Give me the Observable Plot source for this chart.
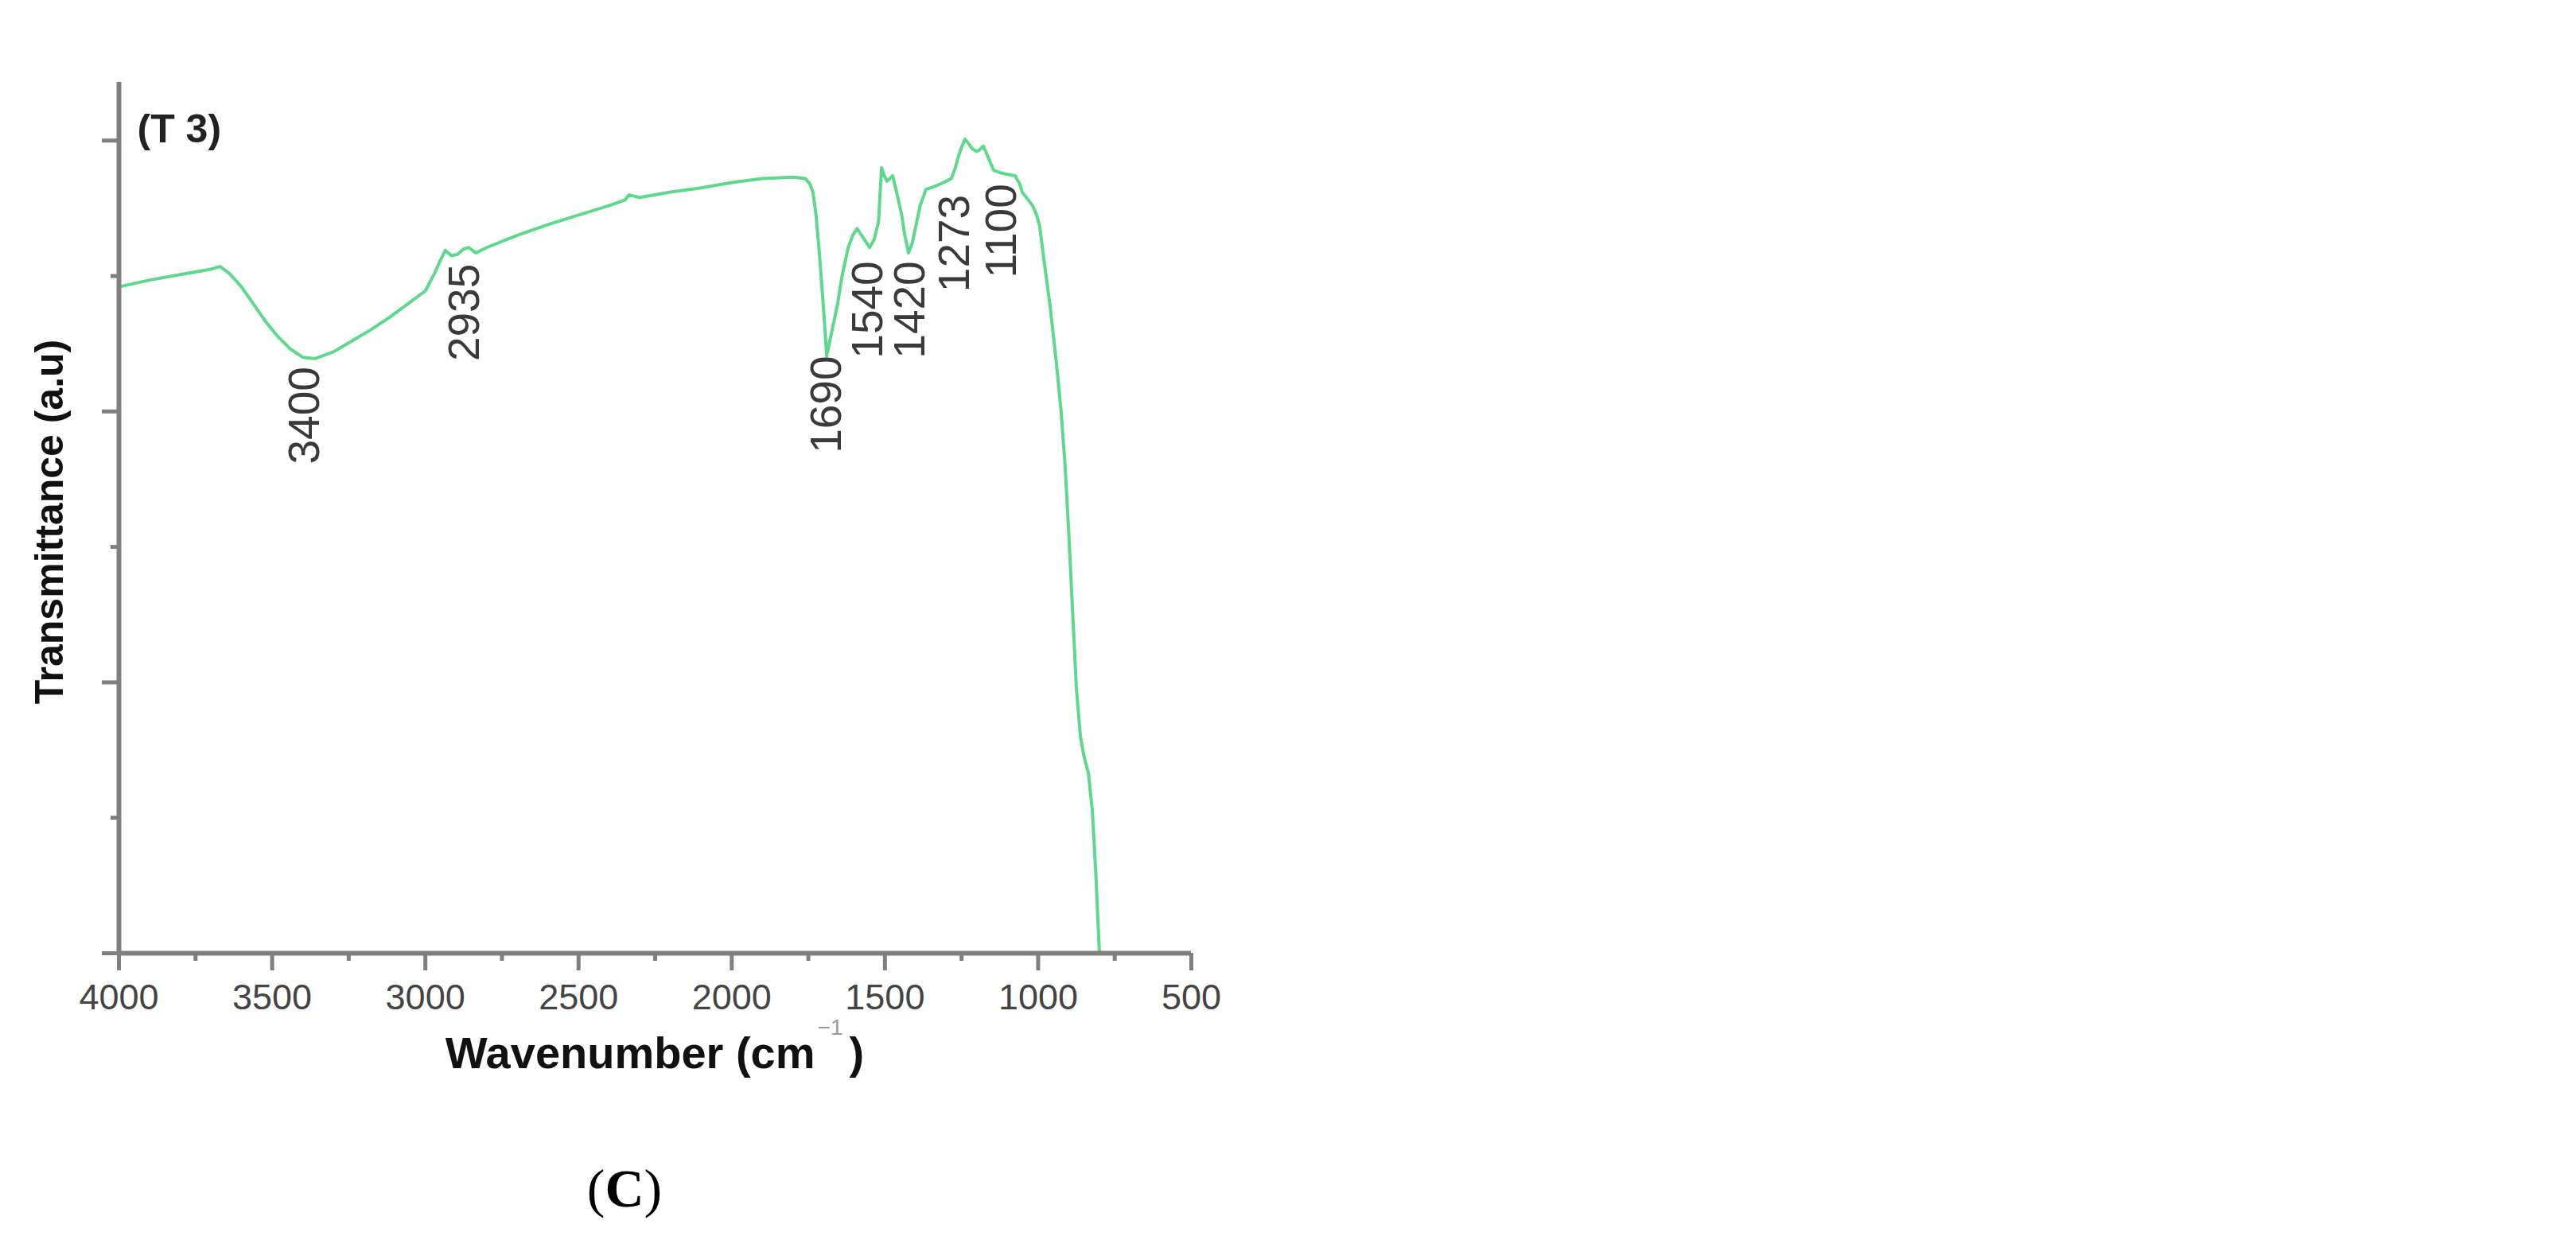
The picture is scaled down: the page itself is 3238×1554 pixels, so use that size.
<!DOCTYPE html>
<html><head><meta charset="utf-8">
<script src="https://cdn.jsdelivr.net/npm/d3@7"></script>
<script src="https://cdn.jsdelivr.net/npm/@observablehq/plot@0.6"></script>
<style>
html,body{margin:0;padding:0;background:#fff;}
#chart svg{display:block;}
</style></head><body><div id="chart"></div>
<script>
// ---- data ----
const wavenumber = [4000,3900,3800,3700,3670,3640,3600,3560,3520,3480,3440,3400,3360,3300,3240,3180,3120,3060,3000,2970,2950,2935,2915,2895,2875,2858,2835,2800,2700,2600,2500,2400,2349,2335,2320,2300,2200,2100,2000,1900,1800,1760,1745,1735,1725,1714,1700,1690,1680,1665,1654,1640,1620,1605,1591,1570,1550,1535,1521,1511,1502,1493,1475,1460,1446,1435,1423,1410,1399,1385,1366,1340,1319,1300,1283,1270,1262,1250,1239,1228,1215,1200,1192,1179,1160,1145,1120,1100,1075,1060,1052,1035,1018,1005,995,980,961,940,925,912,900,887,875,862,850,842,836,830,823,812,800];
const transmittance = [4.92,4.97,5.01,5.05,5.07,5.02,4.92,4.79,4.66,4.55,4.46,4.40,4.39,4.44,4.52,4.60,4.69,4.79,4.89,5.02,5.12,5.19,5.15,5.16,5.20,5.21,5.17,5.21,5.30,5.38,5.45,5.52,5.56,5.60,5.59,5.58,5.62,5.65,5.69,5.72,5.73,5.72,5.68,5.62,5.45,5.17,4.75,4.41,4.52,4.68,4.80,5.00,5.21,5.30,5.35,5.28,5.21,5.27,5.40,5.80,5.74,5.70,5.74,5.60,5.46,5.30,5.17,5.25,5.37,5.52,5.64,5.66,5.68,5.70,5.72,5.80,5.87,5.95,6.01,5.98,5.94,5.92,5.93,5.96,5.86,5.78,5.76,5.75,5.74,5.68,5.62,5.57,5.52,5.45,5.37,5.10,4.78,4.35,4.00,3.60,3.10,2.50,1.95,1.60,1.45,1.38,1.33,1.20,1.05,0.60,0.00];
const peakLabels = ["3400","2935","1690","1540","1420","1273","1100"];
const peakLabelWavenumber = [3393,2871,1690,1555,1418,1272,1117];
const peakLabelLevel = [4.33,5.09,4.41,5.11,5.11,5.60,5.68];
const majorXTicks = [4000,3500,3000,2500,2000,1500,1000,500];
const minorXTicks = [3750,3250,2750,2250,1750,1250,750];
const majorYTicks = [0,2,4,6];
const minorYTicks = [1,3,5];
const panelTitle = "(T 3)";
const yTitle = "Transmittance (a.u)";
const xTitle = "Wavenumber (cm";
const xTitleSup = "\u22121";
const panelLetter = "C";

const spectrum = wavenumber.map((w, i) => ({w, t: transmittance[i]}));
const peaks = peakLabels.map((label, i) => ({label, w: peakLabelWavenumber[i], t: peakLabelLevel[i]}));

const W = 3238, H = 1554;
const axisGray = "#7f7f7f";
const sans = "'Liberation Sans', Arial, sans-serif";

const chart = Plot.plot({
  width: W, height: H,
  marginLeft: 149, marginRight: W - 1497, marginTop: 103, marginBottom: H - 1198,
  style: {fontFamily: sans, background: "#fff", overflow: "visible"},
  x: {domain: [4000, 500], label: null},
  y: {domain: [0, 6.43], label: null},
  marks: [
    Plot.line(spectrum, {x: "w", y: "t", stroke: "#5ed88c", strokeWidth: 4, strokeLinejoin: "round"}),
    Plot.axisX(minorXTicks, {anchor: "bottom", tickSize: 10, stroke: axisGray, strokeWidth: 5, text: null, label: null}),
    Plot.axisX(majorXTicks, {anchor: "bottom", tickSize: 22, stroke: axisGray, strokeWidth: 5, text: null, label: null}),
    Plot.axisX(majorXTicks, {anchor: "bottom", tickSize: 0, tickPadding: 39, fontSize: 45, color: "#444", tickFormat: d => String(d), label: null}),
    Plot.axisY(minorYTicks, {anchor: "left", tickSize: 10, stroke: axisGray, strokeWidth: 5, text: null, label: null}),
    Plot.axisY(majorYTicks, {anchor: "left", tickSize: 21, stroke: axisGray, strokeWidth: 5, text: null, label: null}),
    Plot.ruleY([0], {stroke: axisGray, strokeWidth: 6}),
    Plot.ruleX([4000], {stroke: axisGray, strokeWidth: 6}),
    Plot.text(peaks, {x: "w", y: "t", text: "label", rotate: -90, textAnchor: "end", fontSize: 55, fill: "#3a3a3a"}),
    Plot.text([panelTitle], {text: d => d, frameAnchor: "top-left", textAnchor: "start", lineAnchor: "top", dx: 23, dy: 40, fontSize: 50, fontWeight: "bold", fill: "#222"}),
    Plot.text([yTitle], {text: d => d, frameAnchor: "left", textAnchor: "middle", rotate: -90, dx: -87, dy: 5, fontSize: 50, fontWeight: "bold", fill: "#111"})
  ]
});
document.getElementById("chart").appendChild(chart);

// x-axis title with superscript, and the panel letter
const svg = d3.select(chart);
const xr = chart.scale("x").range;
const y0 = chart.scale("y").apply(0);
const cx = (xr[0] + xr[1]) / 2;
const xt = svg.append("text")
  .attr("x", cx).attr("y", y0 + 145)
  .attr("text-anchor", "middle")
  .attr("font-family", sans).attr("font-size", 56).attr("font-weight", "bold").attr("fill", "#111");
xt.append("tspan").text(xTitle);
xt.append("tspan").attr("dx", 3).attr("dy", -42).attr("font-size", 28).attr("font-weight", "normal").attr("fill", "#999").text(xTitleSup);
xt.append("tspan").attr("dx", 8).attr("dy", 42).text(")");

const pl = svg.append("text")
  .attr("x", cx - 38).attr("y", y0 + 319)
  .attr("text-anchor", "middle")
  .attr("font-family", "'Liberation Serif', 'Times New Roman', serif").attr("font-size", 68).attr("fill", "#000");
pl.append("tspan").text("(");
pl.append("tspan").attr("font-weight", "bold").text(panelLetter);
pl.append("tspan").text(")");
</script></body></html>
